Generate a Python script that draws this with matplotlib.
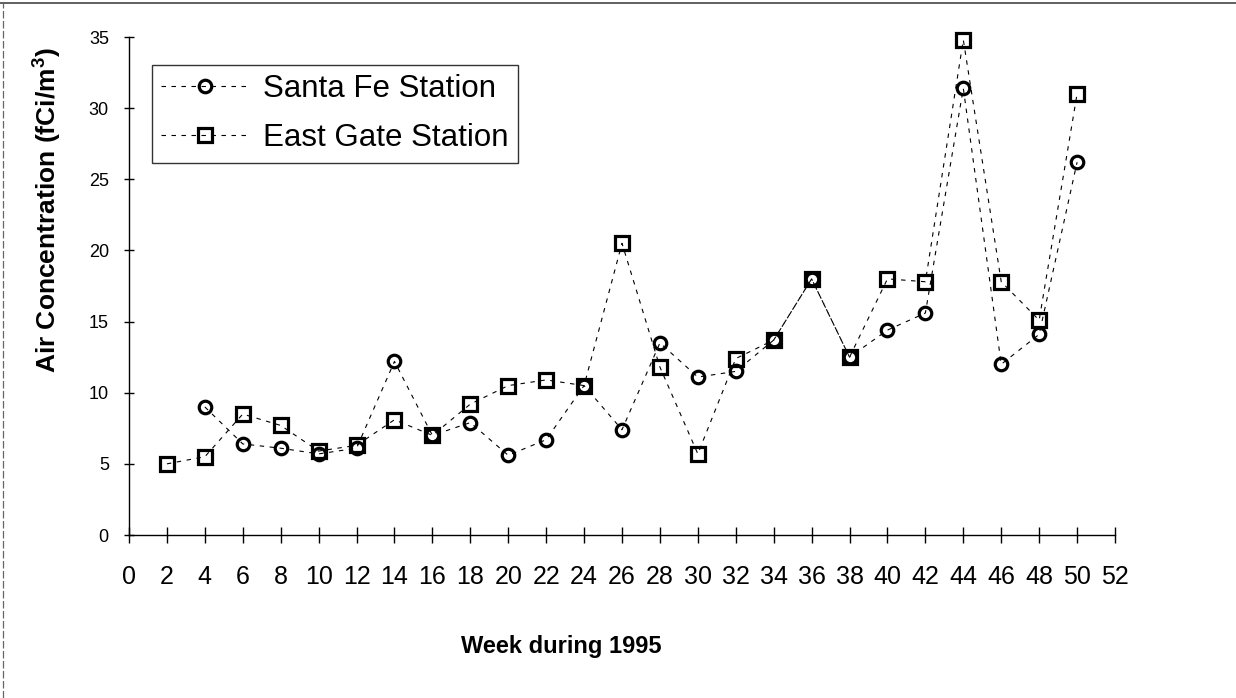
import matplotlib
matplotlib.use("Agg")
import matplotlib.pyplot as plt
from matplotlib.lines import Line2D

plt.rcParams['font.family'] = ['Liberation Sans', 'DejaVu Sans']

# ---- data ----
weeks_sf = [4, 6, 8, 10, 12, 14, 16, 18, 20, 22, 24, 26, 28, 30, 32, 34, 36, 38, 40, 42, 44, 46, 48, 50]
santa_fe = [9.0, 6.4, 6.1, 5.7, 6.1, 12.2, 7.0, 7.9, 5.6, 6.7, 10.5, 7.4, 13.5, 11.1, 11.5, 13.7, 18.0, 12.5, 14.4, 15.6, 31.4, 12.0, 14.1, 26.2]
weeks_eg = [2, 4, 6, 8, 10, 12, 14, 16, 18, 20, 22, 24, 26, 28, 30, 32, 34, 36, 38, 40, 42, 44, 46, 48, 50]
east_gate = [5.0, 5.5, 8.5, 7.7, 5.9, 6.3, 8.1, 7.0, 9.2, 10.5, 10.9, 10.5, 20.5, 11.8, 5.7, 12.4, 13.7, 18.0, 12.5, 18.0, 17.8, 34.8, 17.8, 15.1, 31.0]
x_ticks = list(range(0, 53, 2))
y_ticks = [0, 5, 10, 15, 20, 25, 30, 35]

W, H = 1236, 698
fig = plt.figure(figsize=(W / 100, H / 100), dpi=100)
ax = fig.add_axes([129 / W, 1 - 535 / H, (1115 - 129) / W, (535 - 37) / H])

line_kw = dict(color='black', linewidth=0.8, linestyle=(0, (4, 5)))
ax.plot(weeks_sf, santa_fe, marker='o', markersize=9, markeredgewidth=2.3,
        markerfacecolor='none', markeredgecolor='black', label='Santa Fe Station',
        clip_on=False, **line_kw)
ax.plot(weeks_eg, east_gate, marker='s', markersize=9.5, markeredgewidth=2.3,
        markerfacecolor='none', markeredgecolor='black', label='East Gate Station',
        clip_on=False, **line_kw)

ax.set_xlim(0, 52)
ax.set_ylim(0, 35)
ax.set_xticks(x_ticks)
ax.set_yticks(y_ticks)
ax.spines['top'].set_visible(False)
ax.spines['right'].set_visible(False)
for s in ('left', 'bottom'):
    ax.spines[s].set_linewidth(1.0)
    ax.spines[s].set_color('black')

ax.tick_params(axis='x', direction='inout', length=11, width=1, pad=16, labelsize=18)
ax.tick_params(axis='y', direction='inout', length=7, width=1, pad=11, labelsize=13)

leg = ax.legend(loc='upper left', bbox_to_anchor=((152 - 129) / 986, (535 - 65) / 498),
                fontsize=22.5, frameon=True, fancybox=False, shadow=False,
                handlelength=2.8, handletextpad=0.45, borderpad=0.3, labelspacing=0.6,
                borderaxespad=0)
leg.get_frame().set_edgecolor('black')
leg.get_frame().set_linewidth(1.0)

fig.text(47 / W, 1 - 210 / H, 'Air Concentration (fCi/m$^\\mathregular{3}$)', rotation=90,
         ha='center', va='center', fontsize=19, fontweight='bold')
fig.text(561 / W, 1 - 647 / H, 'Week during 1995', ha='center', va='center',
         fontsize=17, fontweight='bold')

# outer frame (top and left edges of the scanned page)
fig.add_artist(Line2D([0, 1], [1 - 3 / H, 1 - 3 / H], transform=fig.transFigure,
                      color='#444444', linewidth=1.2))
fig.add_artist(Line2D([3 / W, 3 / W], [0, 1 - 3 / H], transform=fig.transFigure,
                      color='#666666', linewidth=0.9, linestyle=(0, (6, 2))))

fig.savefig('out.png', dpi=100)
